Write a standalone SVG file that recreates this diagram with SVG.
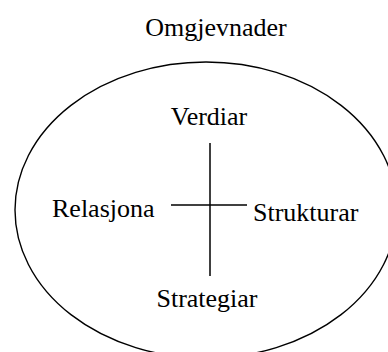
<svg xmlns="http://www.w3.org/2000/svg" width="388" height="352" viewBox="0 0 388 352">
<style>
text{font-family:"Liberation Serif","Times New Roman",serif;font-size:26px;fill:#000}
.ln{stroke:#000;stroke-width:1.5;fill:none}
</style>
<rect width="388" height="352" fill="#fff"/>
<g id="omgjevnader">
<ellipse cx="206" cy="210" rx="191" ry="148" fill="none" stroke="#000" stroke-width="1.4"/>
<text x="216" y="36" text-anchor="middle">Omgjevnader</text>
</g>
<g id="connectors">
<line class="ln" x1="210" y1="143" x2="210" y2="276"/>
<line class="ln" x1="171" y1="205" x2="247" y2="205"/>
</g>
<g id="verdiar"><text x="209" y="125" text-anchor="middle">Verdiar</text></g>
<g id="relasjona"><text x="52" y="217">Relasjona</text></g>
<g id="strukturar"><text x="253" y="221">Strukturar</text></g>
<g id="strategiar"><text x="207" y="307" text-anchor="middle">Strategiar</text></g>
</svg>
